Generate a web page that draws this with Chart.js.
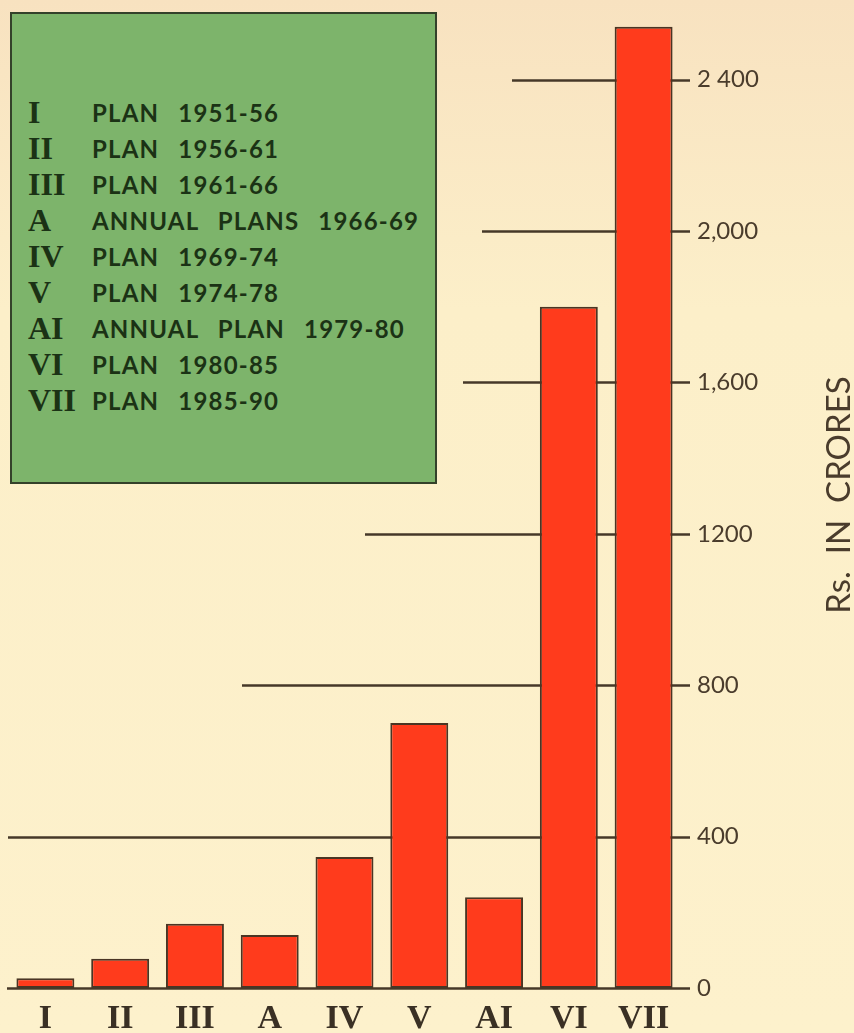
<!DOCTYPE html>
<html>
<head>
<meta charset="utf-8">
<title>Plan outlay</title>
<script src="https://cdn.jsdelivr.net/npm/chart.js@4.4.0/dist/chart.umd.min.js"></script>
<style>
  html, body { margin: 0; padding: 0; }
  body { background: linear-gradient(#f8e2c0, #fcefc9 30%, #fdf1cc); }
  #wrap { position: relative; width: 854px; height: 1033px; }
  #legend {
    position: absolute; left: 10px; top: 12px; width: 427px; height: 472px;
    box-sizing: border-box; background: #7db46b; border: 2px solid #34412a;
    padding-top: 80px;
  }
  .row { height: 36px; display: flex; align-items: center; color: #1b3215; }
  .key {
    width: 80px; box-sizing: border-box; padding-left: 16px;
    font: bold 32px "Liberation Serif", serif;
  }
  .txt { font: bold 24px Lato, sans-serif; letter-spacing: 1.2px; word-spacing: 12px; }
</style>
</head>
<body>
<div id="wrap">
  <canvas id="chart" width="854" height="1033"></canvas>
  <div id="legend"></div>
</div>
<script>
// plan periods and outlay (Rs. crores)
const planLabels = ['I', 'II', 'III', 'A', 'IV', 'V', 'AI', 'VI', 'VII'];
const outlay = [26, 77, 170, 140, 346, 700, 240, 1800, 2540];

// right-hand scale
const tickValues = [0, 400, 800, 1200, 1600, 2000, 2400];
const tickText = ['0', '400', '800', '1200', '1,600', '2,000', '2 400'];

// key box
const legendKeys = ['I', 'II', 'III', 'A', 'IV', 'V', 'AI', 'VI', 'VII'];
const legendText = [
    'PLAN 1951-56',
    'PLAN 1956-61',
    'PLAN 1961-66',
    'ANNUAL PLANS 1966-69',
    'PLAN 1969-74',
    'PLAN 1974-78',
    'ANNUAL PLAN 1979-80',
    'PLAN 1980-85',
    'PLAN 1985-90'
];

const legendBox = document.getElementById('legend');
legendKeys.forEach((k, i) => {
    let row = document.createElement('div');
    row.className = 'row';
    row.innerHTML = '<span class="key">' + k + '</span><span class="txt">' + legendText[i] + '</span>';
    legendBox.appendChild(row);
});

const ink = '#463828';

// guide lines start at different x offsets, one per tick above zero
const guideStart = [8, 242, 365, 463, 482, 512];
const guideEnd = 690;

const guidePlugin = {
    id: 'guides',
    beforeDatasetsDraw(chart) {
        const ctx = chart.ctx;
        const y = chart.scales.y;
        ctx.save();
        ctx.strokeStyle = ink;
        ctx.lineWidth = 2.5;
        tickValues.slice(1).forEach((v, i) => {
            let py = Math.round(y.getPixelForValue(v)) + 0.5;
            ctx.beginPath();
            ctx.moveTo(guideStart[i], py);
            ctx.lineTo(guideEnd, py);
            ctx.stroke();
        });
        ctx.restore();
    },
    afterDatasetsDraw(chart) {
        const ctx = chart.ctx;
        const y = chart.scales.y;
        ctx.save();
        ctx.strokeStyle = ink;
        ctx.lineWidth = 2.5;
        let py = Math.round(y.getPixelForValue(0)) + 0.5;
        ctx.beginPath();
        ctx.moveTo(7, py);
        ctx.lineTo(guideEnd, py);
        ctx.stroke();

        // axis title, reading upwards
        ctx.fillStyle = '#4a3c2c';
        ctx.font = '33px Lato';
        ctx.textAlign = 'center';
        ctx.textBaseline = 'middle';
        ctx.translate(839, 495);
        ctx.rotate(-Math.PI / 2);
        ctx.fillText('Rs.  IN  CRORES', 0, 0);
        ctx.restore();
    }
};

new Chart(document.getElementById('chart'), {
    type: 'bar',
    data: {
        labels: planLabels,
        datasets: [{
            data: outlay,
            backgroundColor: '#ff3b1c',
            borderColor: '#4a3524',
            borderWidth: 2,
            borderSkipped: false,
            barPercentage: 0.775,
            categoryPercentage: 1
        }]
    },
    options: {
        responsive: false,
        animation: false,
        layout: { padding: { left: 8, top: 4, right: 0, bottom: 0 } },
        plugins: {
            legend: { display: false },
            tooltip: { enabled: false }
        },
        scales: {
            x: {
                grid: { display: false, drawTicks: false },
                border: { display: false },
                ticks: {
                    color: '#3a3024',
                    font: { family: 'Liberation Serif', size: 34, weight: 'bold' },
                    padding: 11,
                    maxRotation: 0
                },
                afterFit(scale) { scale.height = 45; }
            },
            y: {
                position: 'right',
                min: 0,
                max: 2600,
                grid: { display: false, drawTicks: false },
                border: { display: false },
                afterBuildTicks(scale) {
                    scale.ticks = tickValues.map(v => ({ value: v }));
                },
                ticks: {
                    color: '#4a3c2c',
                    font: { family: 'Lato', size: 24 },
                    padding: 16,
                    callback: v => tickText[tickValues.indexOf(v)]
                },
                afterFit(scale) {
                    // keep the plot reaching the top edge; labels sit well inside
                    scale.width = 173;
                    scale.paddingTop = 0;
                    scale.paddingBottom = 0;
                }
            }
        }
    },
    plugins: [guidePlugin]
});
</script>
</body>
</html>
